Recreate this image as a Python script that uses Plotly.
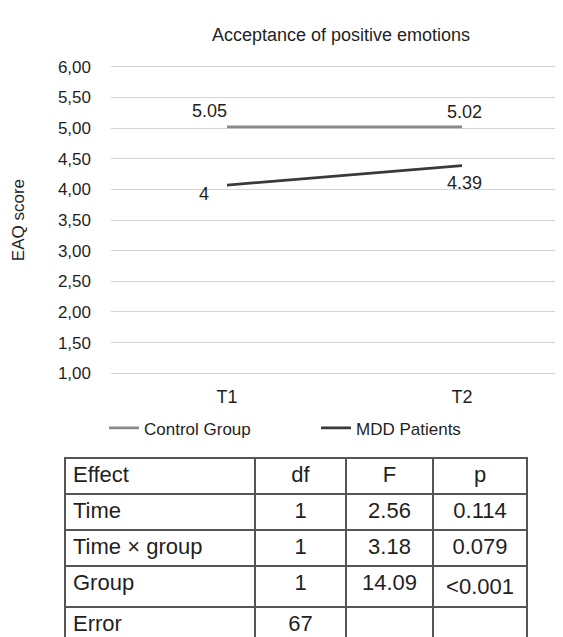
import plotly.graph_objects as go

# ---- data ----
categories = ["T1", "T2"]
control_values = [5.02, 5.02]
control_labels = ["5.05", "5.02"]
mdd_values = [4.07, 4.39]
mdd_labels = ["4", "4.39"]
series_names = ["Control Group", "MDD Patients"]
y_ticks = [1.0, 1.5, 2.0, 2.5, 3.0, 3.5, 4.0, 4.5, 5.0, 5.5, 6.0]

table_header = ["Effect", "df", "F", "p"]
table_effect = ["Time", "Time × group", "Group", "Error"]
table_df = ["1", "1", "1", "67"]
table_F = ["2.56", "3.18", "14.09", ""]
table_p = ["0.114", "0.079", "<0.001", ""]

W, H = 563, 637
FONT = "Liberation Sans, Arial, sans-serif"
TXT = "#1f1f1f"

fig = go.Figure()
fig.add_trace(go.Scatter(x=categories, y=control_values, mode="lines",
                         name=series_names[0],
                         line=dict(color="#8a8a8a", width=2.8)))
fig.add_trace(go.Scatter(x=categories, y=mdd_values, mode="lines",
                         name=series_names[1],
                         line=dict(color="#3a3a3a", width=2.8)))

# data labels
label_shift_control = [(-18, 16), (2, 15)]
label_shift_mdd = [(-23, -9), (2, -17)]
for i, c in enumerate(categories):
    fig.add_annotation(x=c, y=control_values[i], text=control_labels[i], showarrow=False,
                       xref="x", yref="y", xshift=label_shift_control[i][0],
                       yshift=label_shift_control[i][1],
                       font=dict(family=FONT, size=18, color=TXT))
    fig.add_annotation(x=c, y=mdd_values[i], text=mdd_labels[i], showarrow=False,
                       xref="x", yref="y", xshift=label_shift_mdd[i][0],
                       yshift=label_shift_mdd[i][1],
                       font=dict(family=FONT, size=18, color=TXT))

# table
fig.add_trace(go.Table(
    domain=dict(x=[57 / W, 519 / W], y=[0, 1 - 453 / H]),
    columnwidth=[190, 91, 87, 94],
    header=dict(values=table_header,
                align=["left", "center", "center", "center"],
                font=dict(family=FONT, size=22, color=TXT),
                line=dict(color="#555555", width=1.5),
                fill=dict(color="white"), height=36),
    cells=dict(values=[table_effect, table_df, table_F, table_p],
               align=["left", "center", "center", "center"],
               font=dict(family=FONT, size=22, color=TXT),
               line=dict(color="#555555", width=1.5),
               fill=dict(color="white"), height=36),
))

x_left_px, x_t1_px, x_t2_px, x_right_px = 103, 219, 454, 563
ppu = x_t2_px - x_t1_px
y_top_px, y_bot_px = 54.0, 366.7          # pixel rows of 6,00 and 1,00
y_lo, y_hi, pad = 1.0, 6.0, 0.05
ypu = (y_bot_px - y_top_px) / (y_hi - y_lo)
fig.update_layout(
    width=W, height=H,
    margin=dict(l=0, r=0, t=0, b=0),
    paper_bgcolor="white", plot_bgcolor="white",
    separators=", ",
    font=dict(family=FONT, size=17, color=TXT),
    title=dict(text="Acceptance of positive emotions", x=(x_left_px + x_right_px) / 2 / W,
               xanchor="center", y=1 - 27 / H, yanchor="middle", yref="container",
               font=dict(family=FONT, size=18, color=TXT)),
    showlegend=True,
    legend=dict(orientation="h", x=96 / W, xanchor="left", y=1 - 423 / H, yanchor="middle",
                font=dict(family=FONT, size=17, color=TXT),
                entrywidth=167, entrywidthmode="pixels",
                bgcolor="rgba(0,0,0,0)"),
    xaxis=dict(domain=[x_left_px / W, 1.0], type="category",
               range=[-(x_t1_px - x_left_px) / ppu, 1 + (x_right_px - x_t2_px) / ppu],
               showgrid=False, zeroline=False, showline=False,
               ticks="outside", ticklen=4, tickcolor="rgba(0,0,0,0)",
               tickfont=dict(family=FONT, size=18, color=TXT)),
    yaxis=dict(domain=[1 - (y_bot_px + pad * ypu) / H, 1 - (y_top_px - pad * ypu) / H],
               range=[y_lo - pad, y_hi + pad],
               tickvals=y_ticks, tickformat=".2f",
               showgrid=True, gridcolor="#d4d4d4", gridwidth=1.4,
               zeroline=False, showline=False,
               ticks="", ticklabelstandoff=19,
               tickfont=dict(family=FONT, size=17, color=TXT),
               title=dict(text="EAQ score", standoff=28,
                          font=dict(family=FONT, size=17, color=TXT))),
)

fig.write_html("out.html")
